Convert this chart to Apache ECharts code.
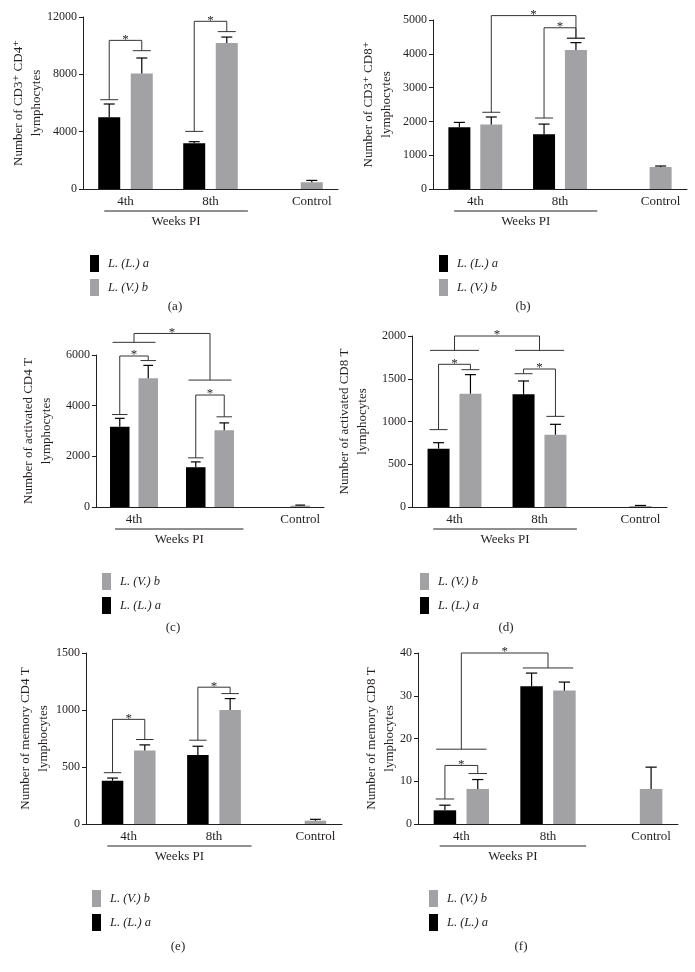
<!DOCTYPE html>
<html><head><meta charset="utf-8">
<script src="https://cdn.jsdelivr.net/npm/echarts@6/dist/echarts.min.js"></script>
<style>html,body{margin:0;padding:0;background:#fff}#c{width:695px;height:972px}</style>
</head><body><div id="c"></div>
<script>
// ---------- data ----------
const categories = ['4th', '8th', 'Control'];
const seriesNames = ['L. (L.) a', 'L. (V.) b'];
const groupLabel = 'Weeks PI';
const captions = ['(a)', '(b)', '(c)', '(d)', '(e)', '(f)'];
const yNames = [
  'Number of CD3\u207A CD4\u207A\nlymphocytes',
  'Number of CD3\u207A CD8\u207A\nlymphocytes',
  'Number of activated CD4 T\nlymphocytes',
  'Number of activated CD8 T\nlymphocytes',
  'Number of memory CD4 T\nlymphocytes',
  'Number of memory CD8 T\nlymphocytes'
];
const yMax = [12000, 5000, 6000, 2000, 1500, 40];
const yInterval = [4000, 1000, 2000, 500, 500, 10];

// bracket rows: [cat1, side1, y1, cat2, side2, y2, yTop]; side -1 = L.(L.)a bar, 1 = L.(V.)b bar, 0 = whole group
const aBlack = [5000, 3200, null];
const aGray = [8050, 10190, 470];
const aBlackErr = [5930, 3300, null];
const aGrayErr = [9140, 10600, 600];
const aBrackets = [[0, -1, 6230, 0, 1, 9650, 10370], [1, -1, 4020, 1, 1, 10980, 11700]];

const bBlack = [1830, 1620, null];
const bGray = [1910, 4110, 650];
const bBlackErr = [1970, 1920, null];
const bGrayErr = [2130, 4330, 680];
const bBrackets = [[1, -1, 2100, 1, 1, 4460, 4770], [0, 1, 2270, 1, 1, 4460, 5130]];

const cBlack = [3170, 1570, null];
const cGray = [5080, 3030, 55];
const cBlackErr = [3500, 1780, null];
const cGrayErr = [5590, 3320, 75];
const cBrackets = [[0, -1, 3650, 0, 1, 5780, 5960], [1, -1, 1940, 1, 1, 3560, 4420], [0, 0, 6500, 1, 0, 5010, 6850]];

const dBlack = [682, 1318, null];
const dGray = [1325, 846, 12];
const dBlackErr = [752, 1474, null];
const dGrayErr = [1548, 967, 18];
const dBrackets = [[0, -1, 905, 0, 1, 1606, 1669], [1, -1, 1559, 1, 1, 1060, 1614], [0, 0, 1832, 1, 0, 1832, 2000]];

const eBlack = [379, 606, null];
const eGray = [644, 1000, 29];
const eBlackErr = [403, 682, null];
const eGrayErr = [694, 1100, 41];
const eBrackets = [[0, -1, 450, 0, 1, 741, 918], [1, -1, 735, 1, 1, 1144, 1200]];

const fBlack = [3.2, 32.2, null];
const fGray = [8.2, 31.2, 8.2];
const fBlackErr = [4.4, 35.3, null];
const fGrayErr = [10.4, 33.2, 13.3];
const fBrackets = [[0, -1, 5.85, 0, 1, 11.8, 13.7], [0, 0, 17.5, 1, 0, 36.5, 40]];

// ---------- layout / style ----------
const FONT = '"Liberation Serif", "DejaVu Serif", serif';
const INK = '#231f20';
const BLACK = '#000000';
const GRAY = '#a2a2a5';

const panels = [
  {black: aBlack, gray: aGray, bErr: aBlackErr, gErr: aGrayErr, br: aBrackets, grid: {left: 83, top: 17, width: 255, height: 172}, barW: 22, gap: 0.48, nameGap: 37, legend: {left: 85, top: 250}, legendOrder: [0, 1], cap: [175, 307]},
  {black: bBlack, gray: bGray, bErr: bBlackErr, gErr: bGrayErr, br: bBrackets, grid: {left: 433, top: 20, width: 254, height: 169}, barW: 22, gap: 0.45, nameGap: 37, legend: {left: 434, top: 250}, legendOrder: [0, 1], cap: [523, 307]},
  {black: cBlack, gray: cGray, bErr: cBlackErr, gErr: cGrayErr, br: cBrackets, grid: {left: 96, top: 355, width: 228, height: 152}, barW: 19.5, gap: 0.46, nameGap: 40, legend: {left: 97, top: 568}, legendOrder: [1, 0], cap: [173, 628]},
  {black: dBlack, gray: dGray, bErr: dBlackErr, gErr: dGrayErr, br: dBrackets, grid: {left: 412, top: 336, width: 255, height: 171}, barW: 22, gap: 0.45, nameGap: 40, legend: {left: 415, top: 568}, legendOrder: [1, 0], cap: [506, 628]},
  {black: eBlack, gray: eGray, bErr: eBlackErr, gErr: eGrayErr, br: eBrackets, grid: {left: 86, top: 653, width: 256, height: 171}, barW: 21.5, gap: 0.5, nameGap: 33, legend: {left: 87, top: 885}, legendOrder: [1, 0], cap: [178, 947]},
  {black: fBlack, gray: fGray, bErr: fBlackErr, gErr: fGrayErr, br: fBrackets, grid: {left: 418, top: 653, width: 260, height: 171}, barW: 22.5, gap: 0.46, nameGap: 19, legend: {left: 424, top: 885}, legendOrder: [1, 0], cap: [521, 947]}
];

function ln(x1, y1, x2, y2, w, c) {
  return {type: 'line', shape: {x1: x1, y1: y1, x2: x2, y2: y2}, style: {stroke: c || INK, lineWidth: w || 1}};
}

function errRender(p) {
  return function (params, api) {
    const cat = api.value(0), side = api.value(1), v = api.value(2), top = api.value(3);
    const step = p.barW * (1 + p.gap) / 2;
    const c0 = api.coord([cat, v]), c1 = api.coord([cat, top]);
    const x = c0[0] + side * step;
    const hw = p.barW / 4;
    return {type: 'group', children: [
      ln(x, c0[1], x, c1[1], 1.2, BLACK),
      ln(x - hw, c1[1], x + hw, c1[1], 1.2, BLACK)
    ]};
  };
}

function brRender(p) {
  return function (params, api) {
    const c1 = api.value(0), s1 = api.value(1), y1 = api.value(2);
    const c2 = api.value(3), s2 = api.value(4), y2 = api.value(5), yt = api.value(6);
    const step = p.barW * (1 + p.gap) / 2;
    const P1 = api.coord([c1, y1]), P2 = api.coord([c2, y2]), T = api.coord([c1, yt]);
    const x1 = P1[0] + s1 * step, x2 = P2[0] + s2 * step;
    const ch = [];
    function cap(x, y, s) {
      const hw = s === 0 ? step + p.barW / 2 - 2.5 : p.barW / 2 - 2;
      ch.push(ln(x - hw, y, x + hw, y, 1, '#333'));
    }
    cap(x1, P1[1], s1);
    cap(x2, P2[1], s2);
    ch.push(ln(x1, P1[1], x1, T[1], 1, '#333'), ln(x1, T[1], x2, T[1], 1, '#333'), ln(x2, T[1], x2, P2[1], 1, '#333'));
    ch.push({type: 'text', style: {text: '*', x: (x1 + x2) / 2, y: T[1] - 1, align: 'center', verticalAlign: 'middle', fontSize: 13, fontFamily: FONT, fill: INK}});
    return {type: 'group', children: ch};
  };
}

function grpRender(p) {
  return function (params, api) {
    const a = api.coord([api.value(0), 0]), b = api.coord([api.value(1), 0]);
    const cw = api.size([1, 0])[0];
    const x1 = a[0] - 0.25 * cw, x2 = b[0] + 0.44 * cw;
    const y = a[1];
    return {type: 'group', children: [
      ln(x1, y + 22, x2, y + 22, 1, INK),
      {type: 'text', style: {text: groupLabel, x: (x1 + x2) / 2, y: y + 33, align: 'center', verticalAlign: 'middle', fontSize: 13, fontFamily: FONT, fill: INK}}
    ]};
  };
}

const option = {
  animation: false,
  backgroundColor: '#fff',
  grid: [], xAxis: [], yAxis: [], series: [], legend: [], graphic: []
};

panels.forEach(function (p, i) {
  option.grid.push(Object.assign({containLabel: false}, p.grid));
  option.xAxis.push({
    gridIndex: i, type: 'category', data: categories,
    axisLine: {show: true, lineStyle: {color: INK, width: 1}},
    axisTick: {show: false},
    axisLabel: {
      fontSize: 13, fontFamily: FONT, color: INK, margin: 6,
      formatter: function (v) { return v === 'Control' ? '{r|' + v + '}' : v; },
      rich: {r: {padding: [0, 0, 0, p.barW * (1 + p.gap)], fontSize: 13, fontFamily: FONT, color: INK}}
    }
  });
  option.yAxis.push({
    gridIndex: i, type: 'value', min: 0, max: yMax[i], interval: yInterval[i],
    axisLine: {show: true, lineStyle: {color: INK, width: 1}},
    axisTick: {show: true, length: 4, lineStyle: {color: INK}},
    splitLine: {show: false},
    axisLabel: {fontSize: 12, fontFamily: FONT, color: INK, margin: 6, formatter: function (v) { return String(v); }},
    name: yNames[i], nameLocation: 'middle', nameRotate: 90, nameGap: p.nameGap, nameMoveOverlap: false,
    nameTextStyle: {fontSize: 13, fontFamily: FONT, color: INK, lineHeight: 18}
  });
  option.series.push({
    type: 'bar', name: seriesNames[0], xAxisIndex: i, yAxisIndex: i, data: p.black,
    barWidth: p.barW, barGap: (p.gap * 100) + '%', itemStyle: {color: BLACK}, silent: true
  });
  option.series.push({
    type: 'bar', name: seriesNames[1], xAxisIndex: i, yAxisIndex: i, data: p.gray,
    barWidth: p.barW, barGap: (p.gap * 100) + '%', itemStyle: {color: GRAY}, silent: true
  });
  const errData = [];
  categories.forEach(function (c, k) {
    if (p.black[k] != null) errData.push([k, -1, p.black[k], p.bErr[k]]);
    if (p.gray[k] != null) errData.push([k, 1, p.gray[k], p.gErr[k]]);
  });
  option.series.push({
    type: 'custom', name: 'err' + i, xAxisIndex: i, yAxisIndex: i, clip: false, silent: true,
    encode: {x: 0, y: [2, 3]}, data: errData, renderItem: errRender(p), z: 3
  });
  option.series.push({
    type: 'custom', name: 'sig' + i, xAxisIndex: i, yAxisIndex: i, clip: false, silent: true,
    encode: {x: [0, 3], y: [2, 5, 6]}, data: p.br, renderItem: brRender(p), z: 3
  });
  option.series.push({
    type: 'custom', name: 'grp' + i, xAxisIndex: i, yAxisIndex: i, clip: false, silent: true,
    encode: {x: [0, 1], y: 2}, data: [[0, 1, 0]], renderItem: grpRender(p), z: 3
  });
  option.legend.push({
    data: p.legendOrder.map(function (k) { return seriesNames[k]; }),
    left: p.legend.left, top: p.legend.top, orient: 'vertical',
    itemWidth: 9, itemHeight: 17, itemGap: 7, icon: 'rect', selectedMode: false,
    textStyle: {fontSize: 12.5, fontFamily: FONT, fontStyle: 'italic', color: INK, padding: [0, 0, 0, 4]}
  });
  option.graphic.push({
    type: 'text', x: p.cap[0], y: p.cap[1], silent: true,
    style: {text: captions[i], align: 'center', verticalAlign: 'middle', fontSize: 13, fontFamily: FONT, fill: INK}
  });
});

const chart = echarts.init(document.getElementById('c'), null, {renderer: 'canvas'});
chart.setOption(option);
</script>
</body></html>
